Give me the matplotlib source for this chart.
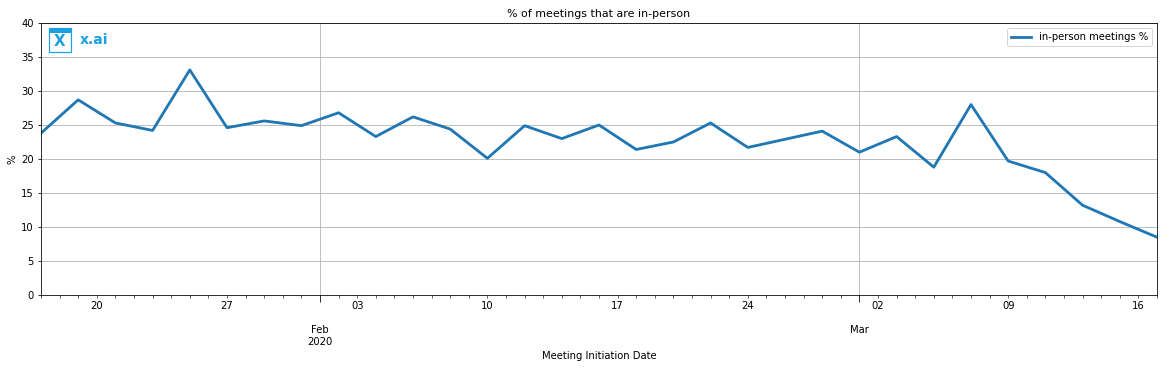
import matplotlib
matplotlib.use("Agg")
import matplotlib.pyplot as plt
import matplotlib.dates as mdates
import matplotlib.patches as patches
import matplotlib.ticker as mticker
import numpy as np
import pandas as pd

# data, one point every 2 days
dates = pd.date_range("2020-01-17", "2020-03-17", freq="2D")
in_person_pct = [23.8, 28.7, 25.3, 24.2, 33.1, 24.6, 25.6, 24.9, 26.8, 23.3,
                 26.2, 24.4, 20.1, 24.9, 23.0, 25.0, 21.4, 22.5, 25.3, 21.7,
                 22.9, 24.1, 21.0, 23.3, 18.8, 28.0, 19.7, 18.0, 13.2, 10.8, 8.5]
y_ticks = [0, 5, 10, 15, 20, 25, 30, 35, 40]
logo_color = "#1a9fe0"

fig = plt.figure(figsize=(1164 / 72, 368 / 72), dpi=72)
ax = fig.add_axes([41 / 1164, 1 - 295 / 368, (1157 - 41) / 1164, (295 - 23) / 368])

ax.plot(dates, in_person_pct, color="#1f77b4", lw=2.8, label="in-person meetings %")

ax.set_xlim(dates[0], dates[-1])
ax.set_ylim(0, 40)
ax.set_yticks(y_ticks)

# month ticks as major, daily ticks as minor with labels on mondays
ax.xaxis.set_major_locator(mdates.MonthLocator())
def month_fmt(x, pos):
    d = mdates.num2date(x)
    if d.month == 2:
        return d.strftime("%b\n%Y")
    return d.strftime("%b")
ax.xaxis.set_major_formatter(mticker.FuncFormatter(month_fmt))
ax.xaxis.set_minor_locator(mdates.DayLocator())
def day_fmt(x, pos):
    d = mdates.num2date(x)
    if d.weekday() == 0:
        return d.strftime("%d")
    return ""
ax.xaxis.set_minor_formatter(mticker.FuncFormatter(day_fmt))
ax.tick_params(axis="x", which="major", length=7, pad=23, labelsize=10)
ax.tick_params(axis="x", which="minor", length=3, labelsize=10)
ax.tick_params(axis="y", labelsize=10)

ax.grid(True, which="major", color="#b0b0b0", lw=0.8)
ax.set_axisbelow(True)

ax.set_title("% of meetings that are in-person", fontsize=11)
ax.set_xlabel("Meeting Initiation Date", fontsize=10)
ax.set_ylabel("%", fontsize=10)
ax.legend(loc="upper right", fontsize=10)

# x.ai logo
ax.add_patch(patches.Rectangle((0.0075, 0.895), 0.019, 0.085, transform=ax.transAxes,
                               fill=False, edgecolor=logo_color, lw=1.2))
ax.add_patch(patches.Rectangle((0.0075, 0.965), 0.019, 0.015, transform=ax.transAxes,
                               color=logo_color, lw=0))
ax.text(0.0165, 0.932, "X", transform=ax.transAxes, color=logo_color,
        fontsize=15, fontweight="bold", ha="center", va="center")
ax.text(0.035, 0.937, "x.ai", transform=ax.transAxes, color=logo_color,
        fontsize=14, fontweight="semibold", ha="left", va="center")

fig.savefig("out.png", dpi=72)
